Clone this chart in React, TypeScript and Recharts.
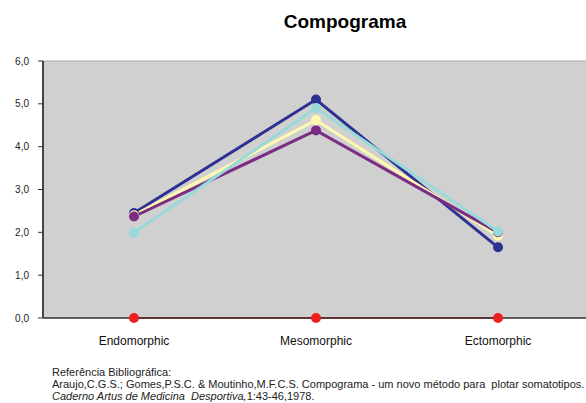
import React from "react";
import { LineChart, Line, XAxis, YAxis, CartesianGrid, ReferenceLine } from "recharts";

const categories = ["Endomorphic", "Mesomorphic", "Ectomorphic"];
const navySeries = [2.45, 5.1, 1.65];
const purpleSeries = [2.37, 4.38, 2.0];
const yellowSeries = [2.4, 4.62, 1.92];
const cyanSeries = [1.99, 4.9, 2.02];
const redSeries = [0, 0, 0];
const yTicks = [0, 1, 2, 3, 4, 5, 6];

const data = categories.map((c, i) => ({
  name: c,
  navy: navySeries[i],
  purple: purpleSeries[i],
  yellow: yellowSeries[i],
  cyan: cyanSeries[i],
  red: redSeries[i],
}));

const font = "'Liberation Sans', Arial, sans-serif";

export default function App() {
  const dot = (color: string) => ({ r: 5, fill: color, stroke: color, strokeWidth: 0 });
  return (
    <div style={{ position: "absolute", left: 0, top: 0, width: 586, height: 403, overflow: "hidden", background: "#fff", fontFamily: font }}>
      <div style={{ position: "absolute", left: 0, width: 690, top: 11, textAlign: "center", fontSize: 19, fontWeight: "bold", color: "#000", lineHeight: "22px" }}>
        Compograma
      </div>
      <LineChart width={589} height={403} data={data} margin={{ top: 61, right: 0, bottom: 55, left: 0 }}>
        <CartesianGrid fill="#d0d0d0" horizontal={false} vertical={false} />
        <ReferenceLine y={6} stroke="#a8a8a8" strokeWidth={1} />
        <XAxis
          dataKey="name"
          height={30}
          padding={{ left: 91, right: 91 }}
          tickLine={false}
          axisLine={{ stroke: "#333", strokeWidth: 1.5 }}
          tick={{ fontSize: 12, fill: "#111", fontFamily: font }}
          tickMargin={12}
          interval={0}
        />
        <YAxis
          width={43}
          domain={[0, 6]}
          ticks={yTicks}
          interval={0}
          tickFormatter={(v: number) => v.toFixed(1).replace(".", ",")}
          tickSize={5}
          tickMargin={9}
          tickLine={{ stroke: "#333" }}
          axisLine={{ stroke: "#444", strokeWidth: 2 }}
          tick={{ fontSize: 10, fill: "#222", fontFamily: font }}
        />
        <Line dataKey="navy" stroke="#2E3192" strokeWidth={3} dot={dot("#2E3192")} isAnimationActive={false} />
        <Line dataKey="yellow" stroke="#FFF9B0" strokeWidth={3} dot={dot("#FFF9B0")} isAnimationActive={false} />
        <Line dataKey="purple" stroke="#7B2C83" strokeWidth={3} dot={dot("#7B2C83")} isAnimationActive={false} />
        <Line dataKey="cyan" stroke="#99D9D9" strokeWidth={3} dot={dot("#99D9D9")} isAnimationActive={false} />
        <Line dataKey="red" stroke="#D00000" strokeWidth={1.5} dot={dot("#F02020")} isAnimationActive={false} />
      </LineChart>
      <div style={{ position: "absolute", left: 52, top: 366, fontSize: 11, color: "#222", lineHeight: "12px", whiteSpace: "nowrap" }}>
        <div>Referência Bibliográfica:</div>
        <div>Araujo,C.G.S.; Gomes,P.S.C. &amp; Moutinho,M.F.C.S. Compograma - um novo método para&nbsp; plotar somatotipos.</div>
        <div style={{ fontStyle: "italic" }}>Caderno Artus de Medicina&nbsp; Desportiva,<span style={{ fontStyle: "normal" }}>1:43-46,1978.</span></div>
      </div>
    </div>
  );
}
